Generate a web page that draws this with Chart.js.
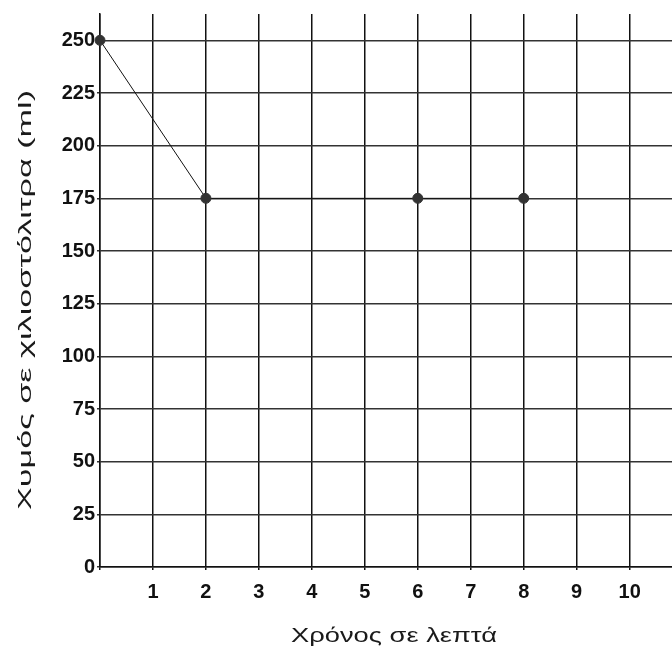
<!DOCTYPE html>
<html lang="el">
<head>
    <meta charset="UTF-8">
    <title>Χυμός σε χιλιοστόλιτρα</title>
    <script src="https://cdn.jsdelivr.net/npm/chart.js"></script>
    <style>
        html, body { margin: 0; padding: 0; background: #fff; }
        #box { width: 672px; height: 651px; }
    </style>
</head>
<body>
<div id="box"><canvas id="juiceChart" width="672" height="651"></canvas></div>
<script>
    // time in minutes and juice volume in ml
    const minutes = [0, 2, 6, 8];
    const juiceMl = [250, 175, 175, 175];
    const xTicks = [1, 2, 3, 4, 5, 6, 7, 8, 9, 10];
    const yTicks = [0, 25, 50, 75, 100, 125, 150, 175, 200, 225, 250];
    const xTitle = 'Χρόνος σε λεπτά';
    const yTitle = 'Χυμός σε χιλιοστόλιτρα (ml)';

    const tickFont = { family: "'Liberation Sans', Arial", size: 20, weight: 'bold' };

    // axis titles are drawn by hand so they can be stretched along their length
    const axisTitles = {
        id: 'axisTitles',
        afterDraw(chart) {
            const ctx = chart.ctx;
            const area = chart.chartArea;
            ctx.save();
            ctx.fillStyle = '#1a1a1a';
            ctx.textAlign = 'center';
            ctx.textBaseline = 'middle';

            ctx.font = "21px 'Liberation Sans', Arial";
            ctx.save();
            ctx.translate(area.left + 294, area.bottom + 69);
            ctx.scale(1.3, 1);
            ctx.fillText(xTitle, 0, 0);
            ctx.restore();

            ctx.font = "18px 'Liberation Sans', Arial";
            ctx.save();
            ctx.translate(26, area.top + 286);
            ctx.rotate(-Math.PI / 2);
            ctx.scale(1.9, 1);
            ctx.fillText(yTitle, 0, 0);
            ctx.restore();

            ctx.restore();
        }
    };

    new Chart(document.getElementById('juiceChart'), {
        type: 'scatter',
        data: {
            datasets: [{
                data: minutes.map((m, i) => ({ x: m, y: juiceMl[i] })),
                showLine: true,
                borderColor: '#111',
                borderWidth: 1,
                pointRadius: 5,
                pointBackgroundColor: '#333',
                pointBorderColor: '#333',
                clip: false
            }]
        },
        plugins: [axisTitles],
        options: {
            responsive: false,
            animation: false,
            layout: { autoPadding: false, padding: { top: 12, right: 0, left: 0, bottom: 0 } },
            plugins: { legend: { display: false }, tooltip: { enabled: false } },
            scales: {
                x: {
                    type: 'linear',
                    min: 0,
                    max: 10.8,
                    afterFit: s => { s.height = 84; },
                    afterBuildTicks: s => { s.ticks = [0].concat(xTicks).map(v => ({ value: v })); },
                    ticks: {
                        color: '#111',
                        font: tickFont,
                        padding: 10,
                        callback: v => (v === 0 ? '' : v)
                    },
                    grid: { color: '#111', lineWidth: 1.5, tickLength: 3, tickColor: '#111' },
                    border: { color: '#111', width: 1.5 }
                },
                y: {
                    type: 'linear',
                    min: 0,
                    max: 262.5,
                    afterFit: s => { s.width = 100; },
                    afterBuildTicks: s => { s.ticks = yTicks.map(v => ({ value: v })); },
                    ticks: { color: '#111', font: tickFont, padding: 2 },
                    grid: { color: '#333', lineWidth: 1.5, tickLength: 3, tickColor: '#333' },
                    border: { color: '#111', width: 1.5 }
                }
            }
        }
    });
</script>
</body>
</html>
